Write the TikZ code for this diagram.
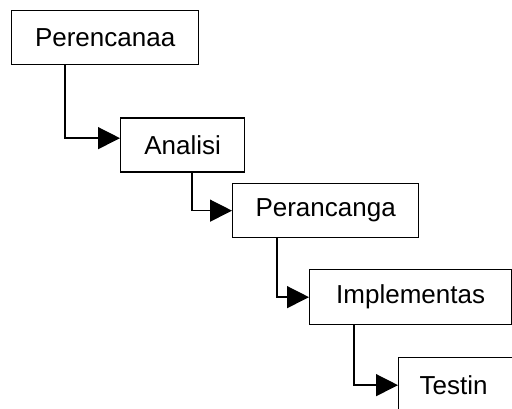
\documentclass[tikz,border=0pt]{standalone}
\usepackage{fontspec}
\setmainfont{Liberation Sans}
\usetikzlibrary{arrows.meta,positioning,calc}

\begin{document}
\begin{tikzpicture}[font=\fontsize{14.8}{17}\selectfont,
   phase/.style={draw=black,fill=white,line width=0.75pt,anchor=north west,
                 minimum height=1.08cm,inner sep=0pt},
   flow/.style={draw=black,line width=0.75pt,
                -{Triangle[length=0.44cm,width=0.44cm]}}]
  \useasboundingbox (0,0) rectangle (10.24,-8.18);
  \node[phase,minimum width=3.74cm] (plan) at (0.22,-0.20) {Perencanaa};
  \node[phase,minimum width=2.48cm] (anls) at (2.40,-2.35) {Analisi};
  \node[phase,minimum width=3.72cm] (desg) at (4.64,-3.66) {Perancanga};
  \node[phase,minimum width=4.04cm,minimum height=1.10cm] (impl) at (6.18,-5.38) {Implementas};
  \node[phase,minimum height=1.10cm,text width=2.2cm,align=left,
        inner xsep=0.42cm] (test) at (7.96,-7.14) {Testin};
  \draw[flow] ([xshift=1.08cm]plan.south west) |- ([yshift=0.14cm]anls.west);
  \draw[flow] ([xshift=1.44cm]anls.south west) |- (desg.west);
  \draw[flow] ([xshift=0.90cm]desg.south west) |- (impl.west);
  \draw[flow] ([xshift=0.90cm]impl.south west) |- (test.west);
\end{tikzpicture}
\end{document}
